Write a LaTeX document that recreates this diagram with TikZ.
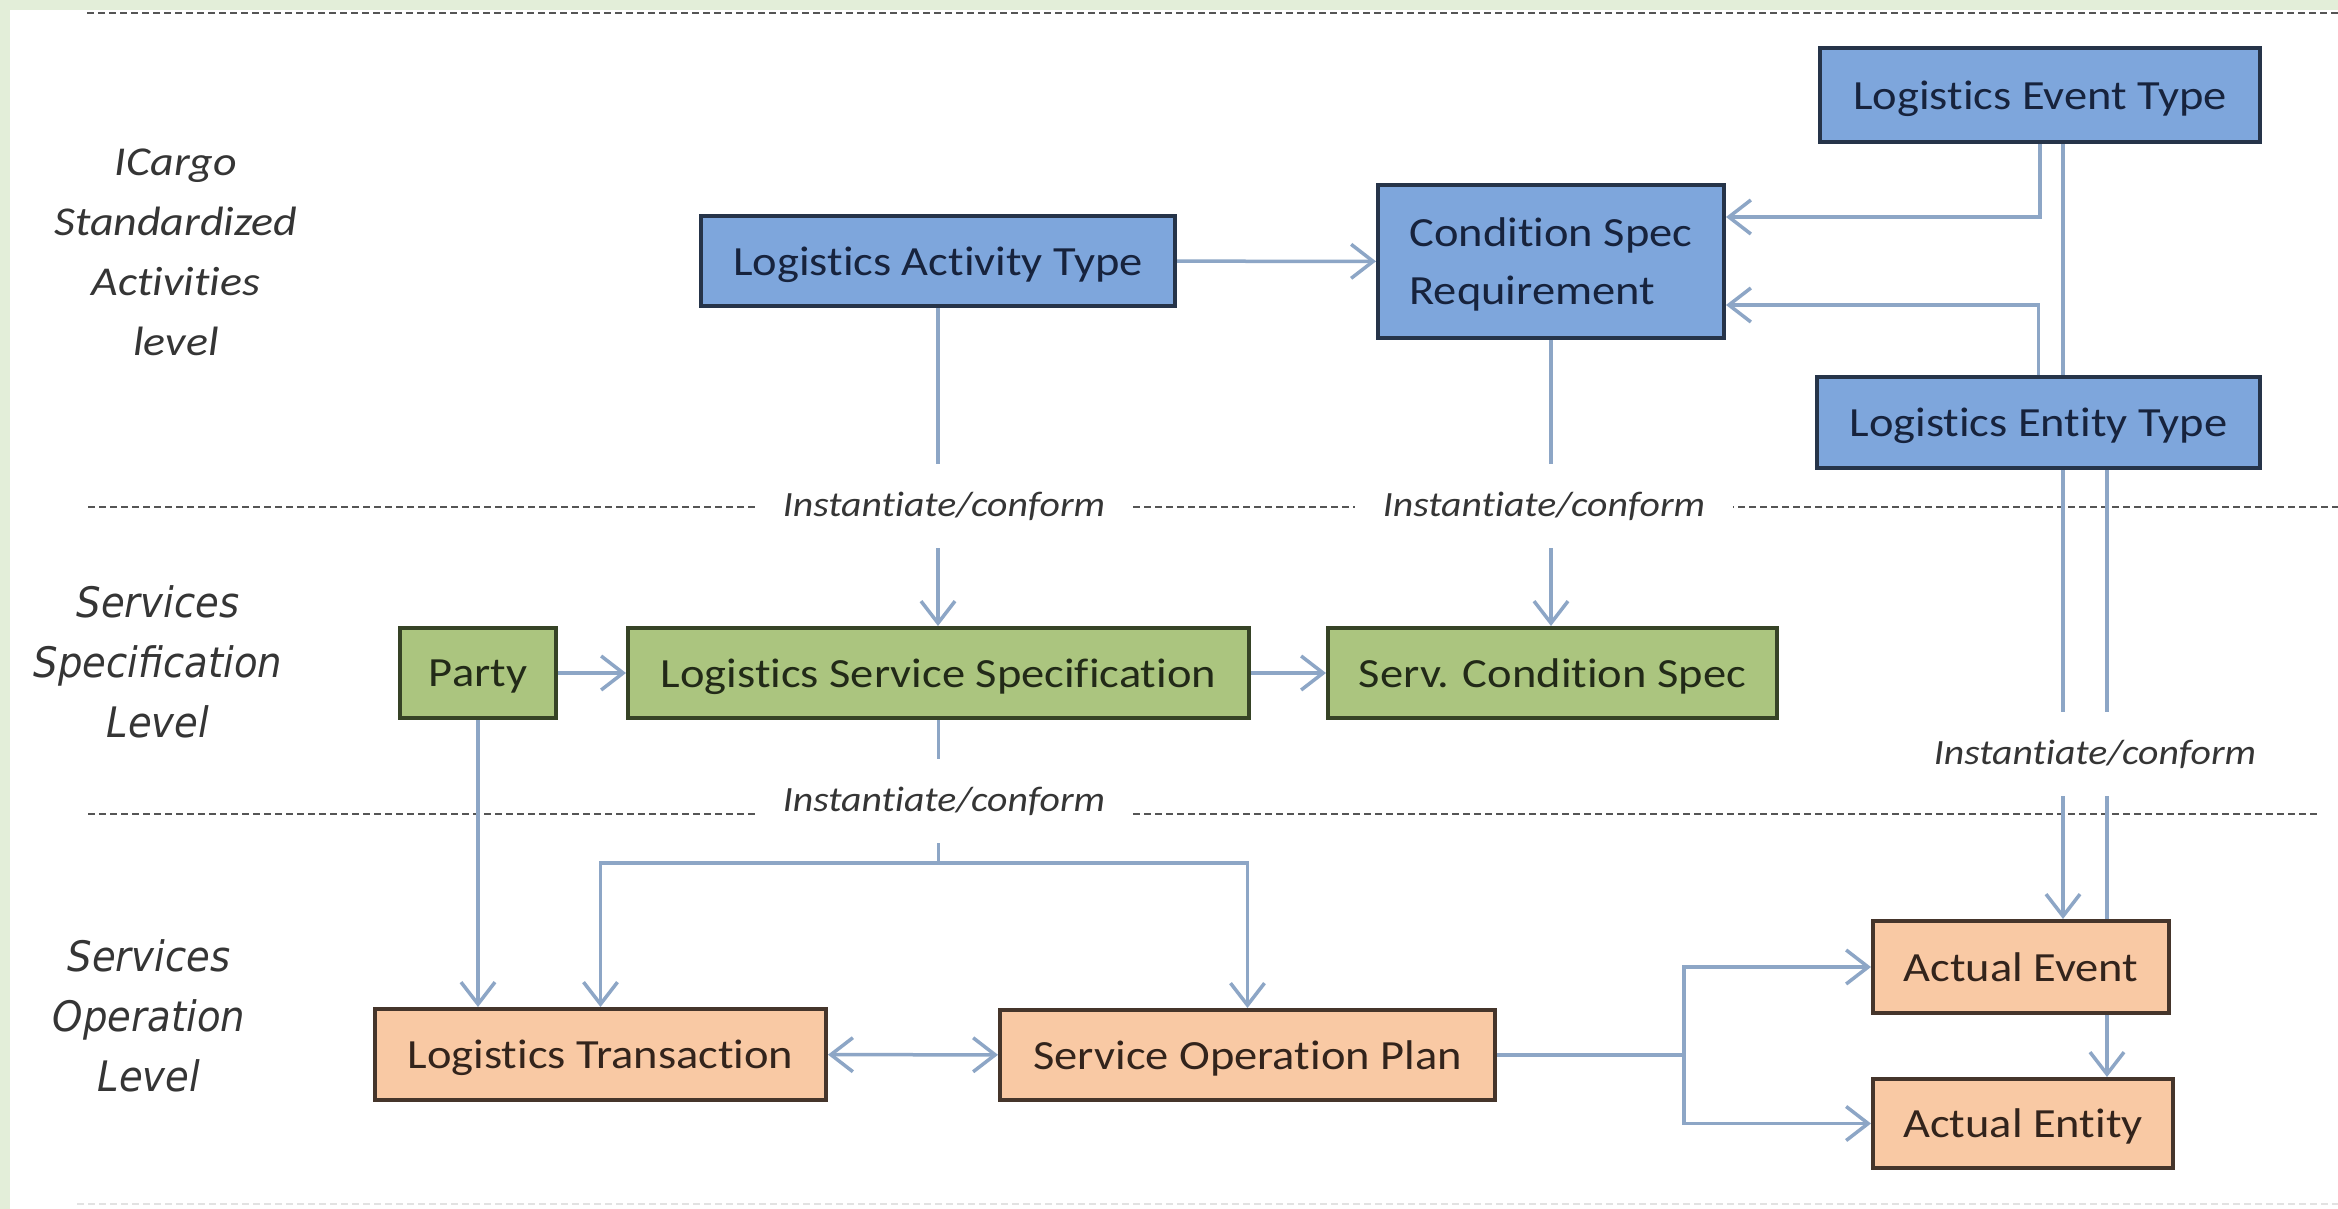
\documentclass[tikz,border=0pt]{standalone}
\usepackage{fontspec}
\setmainfont{Carlito}[FakeStretch=1.12,Ligatures=NoCommon]
\newfontfamily\dvfont{DejaVu Sans}[FakeStretch=0.92]
\usetikzlibrary{arrows.meta,calc}
\pgfdeclarelayer{background}
\pgfsetlayers{background,main}
\definecolor{cblue}{HTML}{7EA6DC}
\definecolor{cblueb}{HTML}{263449}
\definecolor{cbluet}{HTML}{17233D}
\definecolor{cgreen}{HTML}{ABC57F}
\definecolor{cgreenb}{HTML}{364326}
\definecolor{cgreent}{HTML}{222A18}
\definecolor{corange}{HTML}{F9C9A4}
\definecolor{coranget}{HTML}{33241C}
\definecolor{corangeb}{HTML}{45352B}
\definecolor{cline}{HTML}{8DA6C6}
\definecolor{cdash}{HTML}{555555}
\definecolor{cfaint}{HTML}{E2E2E2}
\definecolor{cbg}{HTML}{E3EED9}
\definecolor{ctext}{HTML}{353535}
\tikzset{
  box/.style={draw, line width=4pt, minimum height=90pt, inner sep=0pt,
    font=\fontsize{41.5}{58}\selectfont, text depth=0pt},
  bluebox/.style={box, fill=cblue, draw=cblueb, text=cbluet},
  greenbox/.style={box, fill=cgreen, draw=cgreenb, text=cgreent},
  orangebox/.style={box, fill=corange, draw=corangeb, text=coranget},
  conn/.style={draw=cline, line width=3.5pt},
  arr/.style={conn, -{Straight Barb[length=22pt,width=34pt]}},
  dbl/.style={conn, {Straight Barb[length=22pt,width=34pt]}-{Straight Barb[length=22pt,width=34pt]}},
  sepline/.style={draw=cdash, line width=2.5pt, dash pattern=on 7pt off 4pt},
  inst/.style={fill=white, inner xsep=28pt, inner ysep=0pt, minimum height=84pt,
    font=\fontsize{35.5}{40}\selectfont\itshape, text=ctext},
  lvlA/.style={align=center, text=ctext, inner sep=0pt,
    font=\fontsize{41}{60}\selectfont\itshape},
  lvlB/.style={align=center, text=ctext, inner sep=0pt,
    font=\dvfont\itshape\fontsize{42}{60}\selectfont},
}
\begin{document}
\begin{tikzpicture}[x=1pt,y=-1pt]
\useasboundingbox (0,0) rectangle (2338,1209);
% boxes
\node[bluebox, minimum width=440pt, minimum height=94pt] (LET) at (2040,95) {Logistics Event Type};
\node[bluebox, minimum width=474pt] (LAT) at (938,261) {Logistics Activity Type};
\node[bluebox, minimum width=346pt, minimum height=153pt, align=left] (CSR) at (1551,261.5) {Condition Spec\\Requirement};
\node[bluebox, minimum width=443pt, minimum height=91pt] (LENT) at (2038.5,422.5) {Logistics Entity Type};
\node[greenbox, minimum width=156pt] (Party) at (478,673) {Party};
\node[greenbox, minimum width=621pt] (LSS) at (938.5,673) {Logistics Service Specification};
\node[greenbox, minimum width=449pt] (SCS) at (1552.5,673) {Serv. Condition Spec};
\node[orangebox, minimum width=451pt, minimum height=91pt] (LT) at (600.5,1054.5) {Logistics Transaction};
\node[orangebox, minimum width=495pt] (SOP) at (1247.5,1055) {Service Operation Plan};
\node[orangebox, minimum width=296pt, minimum height=92pt] (AEv) at (2021,967) {Actual Event};
\node[orangebox, minimum width=300pt, minimum height=89pt] (AEn) at (2023,1123.5) {Actual Entity};
% level labels
\node[lvlA] (L1) at (176,252) {ICargo\\Standardized\\Activities\\level};
\node[lvlB] (L2) at (158,662) {Services\\Specification\\Level};
\node[lvlB] (L3) at (149,1016) {Services\\Operation\\Level};
% instantiate labels
\node[inst] (I1) at (944,506) {Instantiate/conform};
\node[inst] (I2) at (1544,506) {Instantiate/conform};
\node[inst] (I3) at (944,801) {Instantiate/conform};
\node[inst] (I4) at (2095,754) {Instantiate/conform};
\coordinate (J) at (938.5,863);
\coordinate (K) at (1684,1055);
\begin{pgfonlayer}{background}
\fill[white] (0,0) rectangle (2338,1209);
\fill[cbg] (0,0) rectangle (2338,10);
\fill[cbg] (0,0) rectangle (10,1209);
\draw[sepline] (87,13) -- (2338,13);
\draw[sepline] (88,507) -- (2338,507);
\draw[sepline] (88,814) -- (2318,814);
\draw[sepline, draw=cfaint] (77,1204) -- (2338,1204);
% connectors
\draw[arr] (LAT) -- (CSR);
\draw[arr] (LAT.south) -- (LAT.south |- LSS.north);
\draw[arr] (CSR.south) -- (CSR.south |- SCS.north);
\draw[arr] (Party) -- (LSS);
\draw[arr] (LSS) -- (SCS);
\draw[arr] (Party.south) -- (Party.south |- LT.north);
\draw[conn] (LSS.south) -- (J);
\draw[arr] (J) -| (LT.north);
\draw[arr] (J) -| (SOP.north);
\draw[dbl] (LT) -- (SOP);
\draw[conn] (SOP.east) -- (K);
\draw[arr] (K) |- (AEv.west);
\draw[arr] (K) |- (AEn.west);
\draw[arr] ([xshift=23pt]LET.south) -- ([xshift=23pt]LET.south |- AEv.north);
\draw[arr] ([xshift=68.5pt]LENT.south) -- ([xshift=68.5pt]LENT.south |- AEn.north);
\draw[arr] (LET.south) |- ([yshift=44.5pt]CSR.east);
\draw[arr] (LENT.north) |- ([yshift=-43.5pt]CSR.east);
\end{pgfonlayer}
\end{tikzpicture}
\end{document}
